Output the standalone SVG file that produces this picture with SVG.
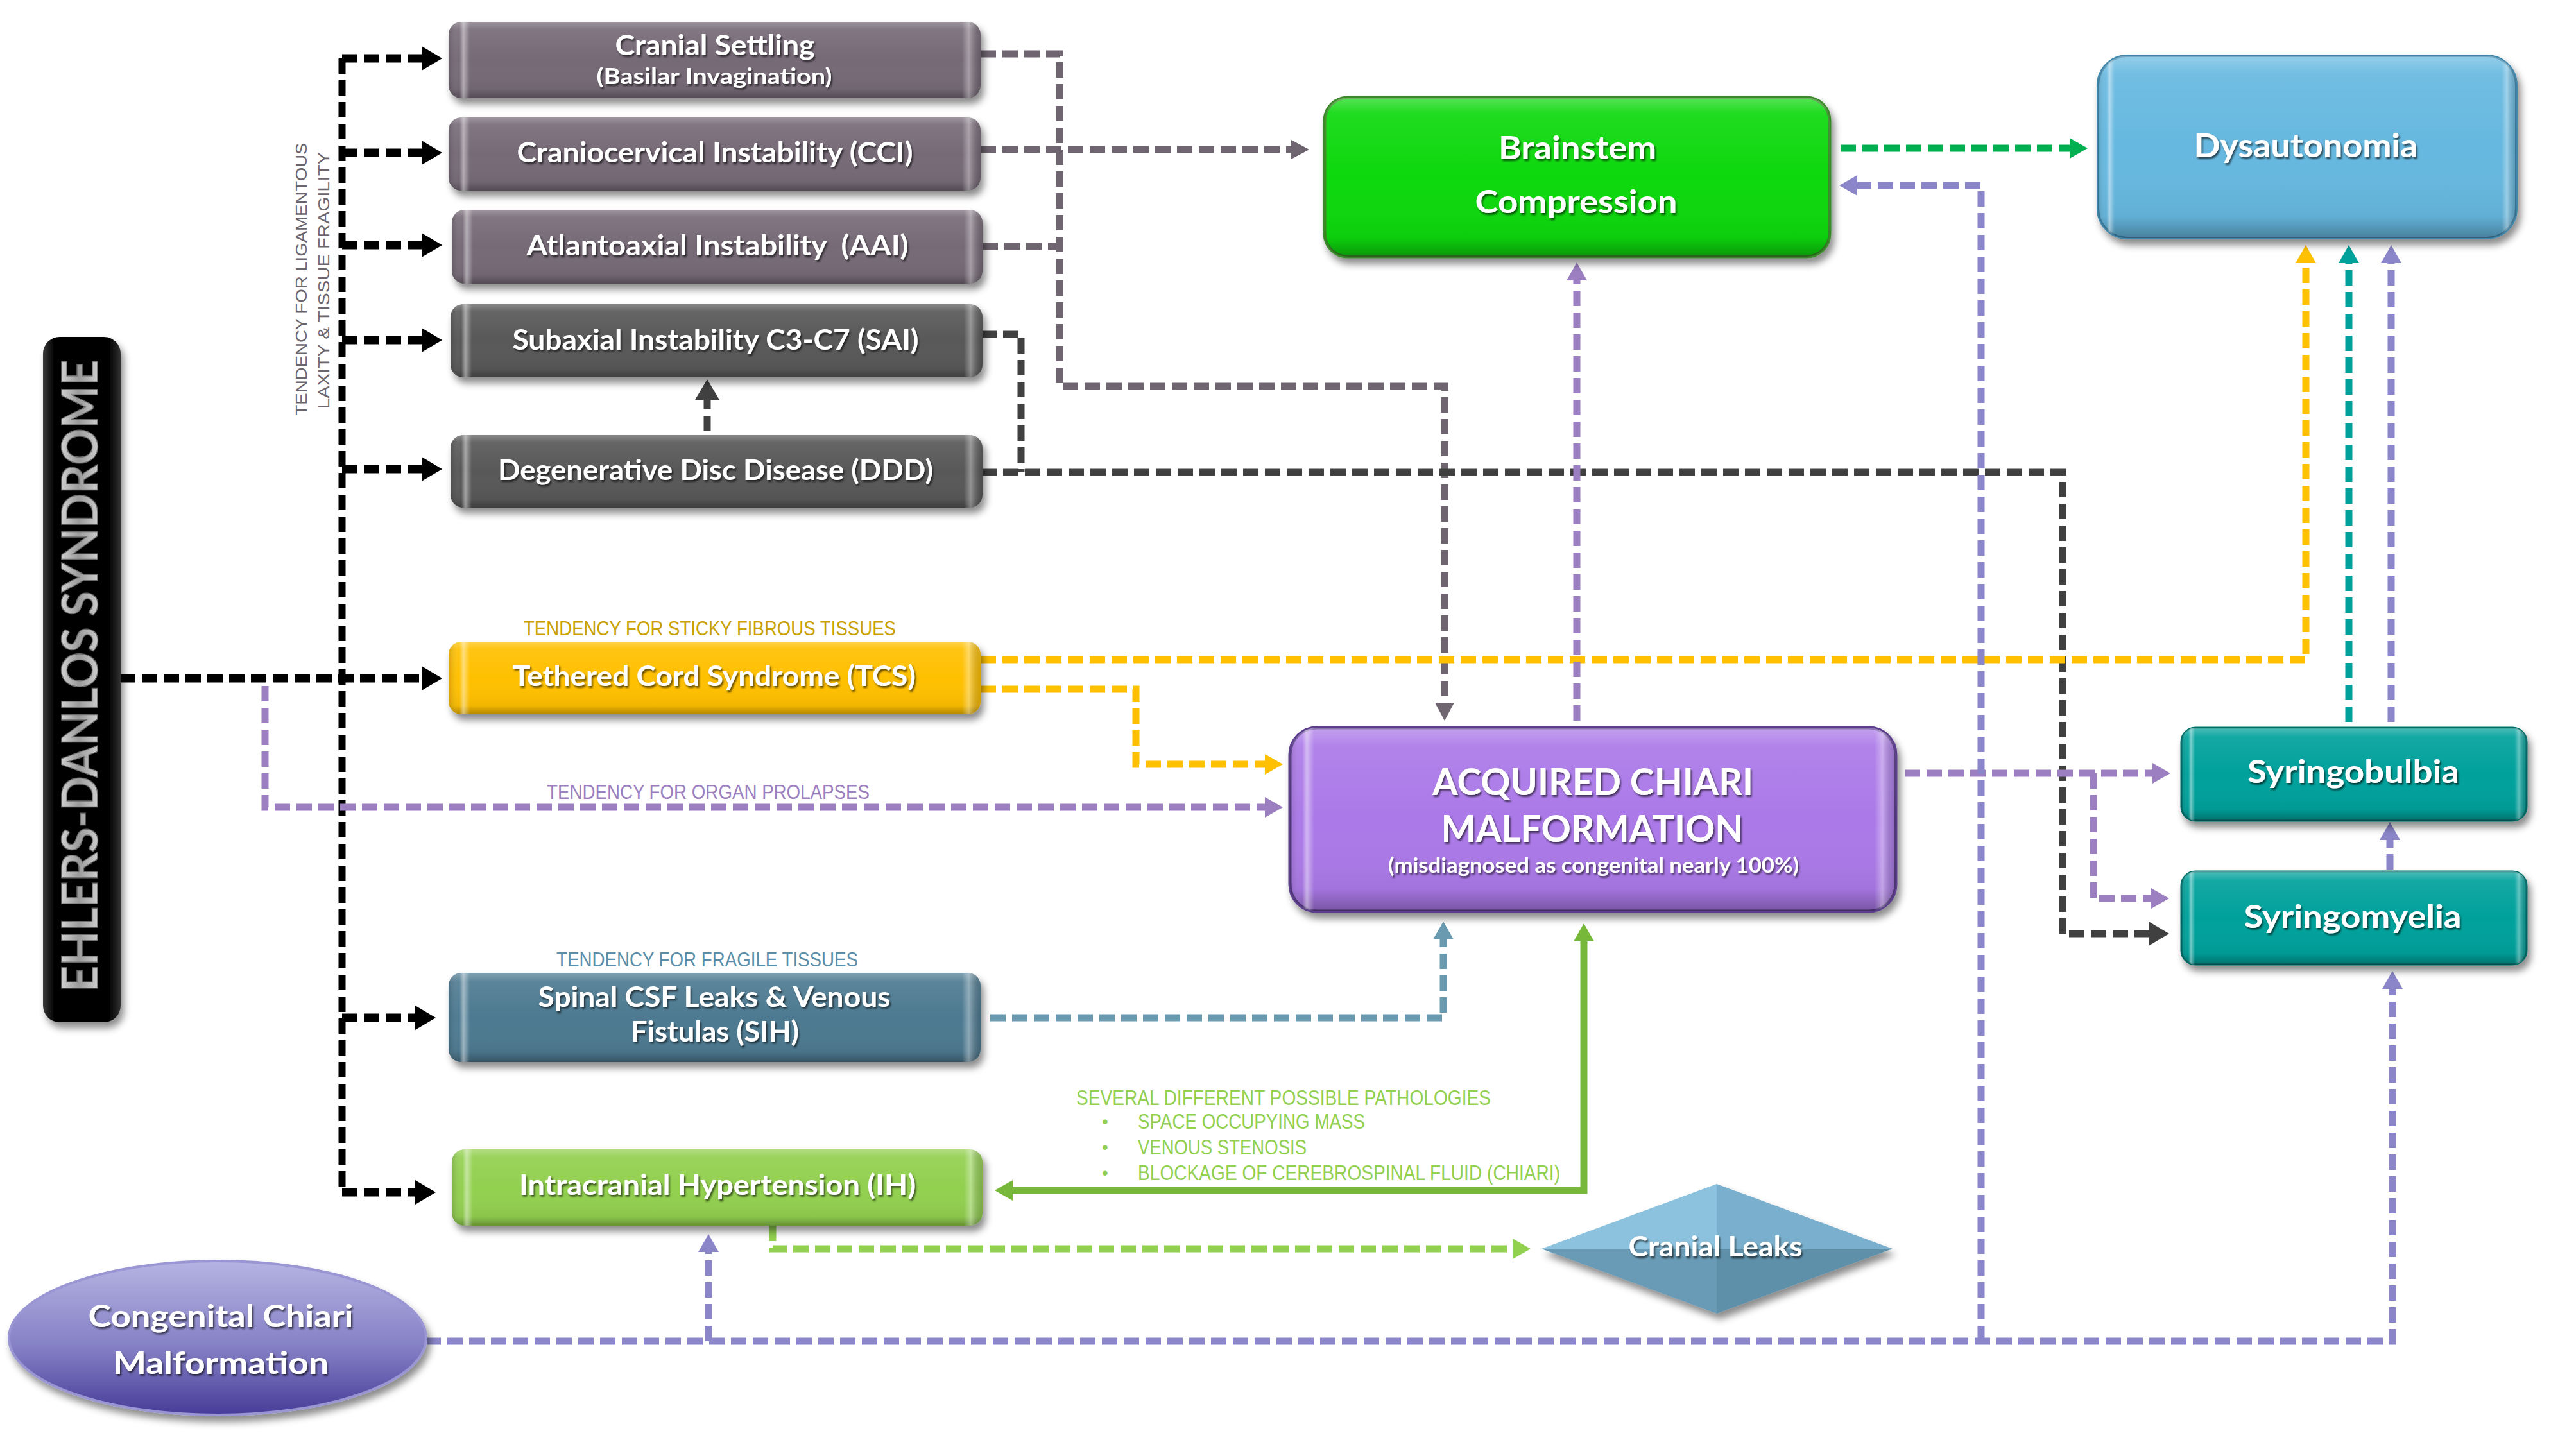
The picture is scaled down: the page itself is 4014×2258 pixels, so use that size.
<svg xmlns="http://www.w3.org/2000/svg" width="4014" height="2258" viewBox="0 0 4014 2258">
<defs>
<style>
.c{fill:none;stroke-width:11;stroke-dasharray:24 10}
.blk{stroke:#000}.gpu{stroke:#6f6570}.dgr{stroke:#404040}.yel{stroke:#ffc000}.mau{stroke:#9b7fc0}.lav{stroke:#8a86c9}.tea{stroke:#00a19b}.grn{stroke:#00b050}.lgr{stroke:#92d050}.sih{stroke:#6a9ab0}
.lbl{font-family:Lato,"Open Sans","Liberation Sans",sans-serif;font-weight:700;fill:#fff;text-anchor:middle;filter:url(#ts)}
.ann{font-family:"Liberation Sans",Arial,sans-serif}
.gl{fill:url(#glossV)}.gh{fill:url(#glossH)}
</style>
<filter id="sh" x="-10%" y="-20%" width="125%" height="150%"><feDropShadow dx="5" dy="9" stdDeviation="6" flood-color="#000" flood-opacity="0.45"/></filter>
<filter id="ts" x="-5%" y="-30%" width="115%" height="170%"><feDropShadow dx="2" dy="3" stdDeviation="1.5" flood-color="#000" flood-opacity="0.6"/></filter>
<linearGradient id="glossV" x1="0" y1="0" x2="0" y2="1"><stop offset="0" stop-color="#fff" stop-opacity="0.3"/><stop offset="0.1" stop-color="#fff" stop-opacity="0.08"/><stop offset="0.5" stop-color="#fff" stop-opacity="0"/><stop offset="0.88" stop-color="#000" stop-opacity="0.05"/><stop offset="1" stop-color="#000" stop-opacity="0.3"/></linearGradient>
<linearGradient id="glossH" x1="0" y1="0" x2="1" y2="0"><stop offset="0" stop-color="#000" stop-opacity="0.15"/><stop offset="0.02" stop-color="#fff" stop-opacity="0"/><stop offset="0.028" stop-color="#fff" stop-opacity="0.45"/><stop offset="0.04" stop-color="#fff" stop-opacity="0"/><stop offset="0.965" stop-color="#fff" stop-opacity="0"/><stop offset="0.978" stop-color="#fff" stop-opacity="0.35"/><stop offset="1" stop-color="#000" stop-opacity="0.15"/></linearGradient>
<linearGradient id="ell" x1="0" y1="0" x2="0" y2="1"><stop offset="0" stop-color="#b5b3e2"/><stop offset="0.55" stop-color="#8581c6"/><stop offset="1" stop-color="#483c98"/></linearGradient>
<linearGradient id="eds" x1="0" y1="0" x2="1" y2="0"><stop offset="0" stop-color="#3a3a3a"/><stop offset="0.15" stop-color="#000"/><stop offset="0.85" stop-color="#000"/><stop offset="1" stop-color="#333"/></linearGradient>
<linearGradient id="silver" x1="0" y1="0" x2="0" y2="1"><stop offset="0" stop-color="#f4f4f4"/><stop offset="0.5" stop-color="#9a9a9a"/><stop offset="1" stop-color="#e6e6e6"/></linearGradient>
<marker id="aBlk" markerUnits="userSpaceOnUse" markerWidth="32" markerHeight="38" refX="12" refY="19" orient="auto"><path d="M0,0 L32,19 L0,38 z" fill="#000"/></marker>
<marker id="aGpu" markerUnits="userSpaceOnUse" markerWidth="28" markerHeight="30" refX="8" refY="15" orient="auto"><path d="M0,0 L28,15 L0,30 z" fill="#6f6570"/></marker>
<marker id="aDgr" markerUnits="userSpaceOnUse" markerWidth="32" markerHeight="38" refX="12" refY="19" orient="auto"><path d="M0,0 L32,19 L0,38 z" fill="#404040"/></marker>
<marker id="aYel" markerUnits="userSpaceOnUse" markerWidth="28" markerHeight="32" refX="8" refY="16" orient="auto"><path d="M0,0 L28,16 L0,32 z" fill="#ffc000"/></marker>
<marker id="aMau" markerUnits="userSpaceOnUse" markerWidth="28" markerHeight="32" refX="8" refY="16" orient="auto"><path d="M0,0 L28,16 L0,32 z" fill="#9b7fc0"/></marker>
<marker id="aLav" markerUnits="userSpaceOnUse" markerWidth="28" markerHeight="32" refX="8" refY="16" orient="auto"><path d="M0,0 L28,16 L0,32 z" fill="#8a86c9"/></marker>
<marker id="aTea" markerUnits="userSpaceOnUse" markerWidth="28" markerHeight="32" refX="8" refY="16" orient="auto"><path d="M0,0 L28,16 L0,32 z" fill="#00a19b"/></marker>
<marker id="aGrn" markerUnits="userSpaceOnUse" markerWidth="28" markerHeight="32" refX="8" refY="16" orient="auto"><path d="M0,0 L28,16 L0,32 z" fill="#00b050"/></marker>
<marker id="aLgr" markerUnits="userSpaceOnUse" markerWidth="28" markerHeight="32" refX="8" refY="16" orient="auto"><path d="M0,0 L28,16 L0,32 z" fill="#92d050"/></marker>
<marker id="aSgr" markerUnits="userSpaceOnUse" markerWidth="28" markerHeight="32" refX="8" refY="16" orient="auto-start-reverse"><path d="M0,0 L28,16 L0,32 z" fill="#77b83a"/></marker>
<marker id="aSih" markerUnits="userSpaceOnUse" markerWidth="28" markerHeight="32" refX="8" refY="16" orient="auto"><path d="M0,0 L28,16 L0,32 z" fill="#6a9ab0"/></marker>
</defs>
<rect width="4014" height="2258" fill="#fff"/>

<g id="connectors">
<path class="c blk" d="M533,91 V1858"/>
<path class="c blk" style="stroke-width:13" d="M533,91 H669" marker-end="url(#aBlk)"/>
<path class="c blk" style="stroke-width:13" d="M533,238 H669" marker-end="url(#aBlk)"/>
<path class="c blk" style="stroke-width:13" d="M533,382 H669" marker-end="url(#aBlk)"/>
<path class="c blk" style="stroke-width:13" d="M533,530 H669" marker-end="url(#aBlk)"/>
<path class="c blk" style="stroke-width:13" d="M533,731 H669" marker-end="url(#aBlk)"/>
<path class="c blk" style="stroke-width:13" d="M533,1586 H659" marker-end="url(#aBlk)"/>
<path class="c blk" style="stroke-width:13" d="M533,1858 H659" marker-end="url(#aBlk)"/>
<path class="c blk" style="stroke-width:13" d="M187,1057 H669" marker-end="url(#aBlk)"/>

<path class="c gpu" d="M1528,84 H1651 V602 H2251 V1103" marker-end="url(#aGpu)"/>
<path class="c gpu" d="M1528,233 H2020" marker-end="url(#aGpu)"/>
<path class="c gpu" d="M1531,384 H1651"/>

<path class="c dgr" d="M1529,521 H1591 V736"/>
<path class="c dgr" d="M1529,736 H3214 V1455 H3360" marker-end="url(#aDgr)"/>
<path class="c dgr" d="M1102,672 V611" marker-end="url(#aDgr)"/>

<path class="c yel" d="M1528,1028 H3593 V402" marker-end="url(#aYel)"/>
<path class="c yel" d="M1528,1074 H1770 V1191 H1979" marker-end="url(#aYel)"/>

<path class="c mau" d="M413,1069 V1258 H1979" marker-end="url(#aMau)"/>
<path class="c mau" d="M2457,1123 V429" marker-end="url(#aMau)"/>
<path class="c mau" d="M2968,1205 H3362" marker-end="url(#aMau)"/>
<path class="c mau" d="M3262,1205 V1400 H3360" marker-end="url(#aMau)"/>

<path class="c lav" d="M663,2090 H3728 V1533" marker-end="url(#aLav)"/>
<path class="c lav" d="M1104,2090 V1943" marker-end="url(#aLav)"/>
<path class="c lav" d="M3087,2090 V289 H2886" marker-end="url(#aLav)"/>
<path class="c lav" d="M3724,1355 V1301" marker-end="url(#aLav)"/>
<path class="c lav" d="M3726,1125 V402" marker-end="url(#aLav)"/>

<path class="c tea" d="M3660,1125 V402" marker-end="url(#aTea)"/>
<path class="c grn" d="M2868,231 H3233" marker-end="url(#aGrn)"/>
<path class="c lgr" d="M1204,1910 V1946 H2365" marker-end="url(#aLgr)"/>
<path d="M2468,1459 V1855 H1570" fill="none" stroke="#77b83a" stroke-width="11" marker-start="url(#aSgr)" marker-end="url(#aSgr)"/>
<path class="c sih" d="M1543,1586 H2249 V1456" marker-end="url(#aSih)"/>
</g>

<g id="eds">
<rect x="67" y="525" width="121" height="1068" rx="26" fill="url(#eds)" filter="url(#sh)"/>
<text transform="translate(152,1053) rotate(-90)" font-family="Lato,'Open Sans',sans-serif" font-weight="700" font-size="76" text-anchor="middle" textLength="985" lengthAdjust="spacingAndGlyphs" fill="url(#silver)" stroke="#6a6a6a" stroke-width="1.5">EHLERS-DANLOS SYNDROME</text>
</g>

<g id="ligament-label" class="ann" font-size="24" fill="#6b666d" text-anchor="middle">
<text transform="translate(478,435) rotate(-90)" textLength="425" lengthAdjust="spacingAndGlyphs">TENDENCY FOR LIGAMENTOUS</text>
<text transform="translate(513,437) rotate(-90)" textLength="400" lengthAdjust="spacingAndGlyphs">LAXITY &amp; TISSUE FRAGILITY</text>
</g>

<g id="cranial-settling">
<rect x="699" y="34" width="829" height="119" rx="20" fill="#766a77" filter="url(#sh)"/>
<rect class="gl" x="699" y="34" width="829" height="119" rx="20"/><rect class="gh" x="699" y="34" width="829" height="119" rx="20"/>
<text class="lbl" x="1114" y="86" font-size="44" textLength="311" lengthAdjust="spacingAndGlyphs">Cranial Settling</text>
<text class="lbl" x="1113" y="131" font-size="34" textLength="367" lengthAdjust="spacingAndGlyphs">(Basilar Invagination)</text>
</g>
<g id="cci">
<rect x="699" y="183" width="829" height="114" rx="20" fill="#766a77" filter="url(#sh)"/>
<rect class="gl" x="699" y="183" width="829" height="114" rx="20"/><rect class="gh" x="699" y="183" width="829" height="114" rx="20"/>
<text class="lbl" x="1114" y="253" font-size="44" textLength="617" lengthAdjust="spacingAndGlyphs">Craniocervical Instability (CCI)</text>
</g>
<g id="aai">
<rect x="704" y="327" width="827" height="115" rx="20" fill="#766a77" filter="url(#sh)"/>
<rect class="gl" x="704" y="327" width="827" height="115" rx="20"/><rect class="gh" x="704" y="327" width="827" height="115" rx="20"/>
<text class="lbl" x="1118" y="398" font-size="44" textLength="595" lengthAdjust="spacingAndGlyphs">Atlantoaxial Instability&#160; (AAI)</text>
</g>
<g id="sai">
<rect x="702" y="474" width="829" height="114" rx="20" fill="#595959" filter="url(#sh)"/>
<rect class="gl" x="702" y="474" width="829" height="114" rx="20"/><rect class="gh" x="702" y="474" width="829" height="114" rx="20"/>
<text class="lbl" x="1115" y="545" font-size="44" textLength="633" lengthAdjust="spacingAndGlyphs">Subaxial Instability C3-C7 (SAI)</text>
</g>
<g id="ddd">
<rect x="702" y="678" width="829" height="113" rx="20" fill="#595959" filter="url(#sh)"/>
<rect class="gl" x="702" y="678" width="829" height="113" rx="20"/><rect class="gh" x="702" y="678" width="829" height="113" rx="20"/>
<text class="lbl" x="1115" y="748" font-size="44" textLength="678" lengthAdjust="spacingAndGlyphs">Degenerative Disc Disease (DDD)</text>
</g>
<g id="tcs">
<text class="ann" x="816" y="990" font-size="32" fill="#c9a100" textLength="580" lengthAdjust="spacingAndGlyphs">TENDENCY FOR STICKY FIBROUS TISSUES</text>
<rect x="699" y="1000" width="829" height="113" rx="20" fill="#ffc000" filter="url(#sh)"/>
<rect class="gl" x="699" y="1000" width="829" height="113" rx="20"/><rect class="gh" x="699" y="1000" width="829" height="113" rx="20"/>
<text class="lbl" x="1113" y="1069" font-size="44" textLength="628" lengthAdjust="spacingAndGlyphs">Tethered Cord Syndrome (TCS)</text>
</g>
<g id="organ-prolapse-label">
<text class="ann" x="852" y="1245" font-size="32" fill="#9b7fc0" textLength="503" lengthAdjust="spacingAndGlyphs">TENDENCY FOR ORGAN PROLAPSES</text>
</g>
<g id="sih">
<text class="ann" x="867" y="1506" font-size="32" fill="#5b8ea8" textLength="470" lengthAdjust="spacingAndGlyphs">TENDENCY FOR FRAGILE TISSUES</text>
<rect x="699" y="1516" width="829" height="139" rx="20" fill="#4e7a91" filter="url(#sh)"/>
<rect class="gl" x="699" y="1516" width="829" height="139" rx="20"/><rect class="gh" x="699" y="1516" width="829" height="139" rx="20"/>
<text class="lbl" x="1113" y="1569" font-size="44" textLength="549" lengthAdjust="spacingAndGlyphs">Spinal CSF Leaks &amp; Venous</text>
<text class="lbl" x="1114" y="1623" font-size="44" textLength="262" lengthAdjust="spacingAndGlyphs">Fistulas (SIH)</text>
</g>
<g id="ih">
<rect x="704" y="1791" width="827" height="119" rx="20" fill="#92d050" filter="url(#sh)"/>
<rect class="gl" x="704" y="1791" width="827" height="119" rx="20"/><rect class="gh" x="704" y="1791" width="827" height="119" rx="20"/>
<text class="lbl" x="1118" y="1862" font-size="44" textLength="618" lengthAdjust="spacingAndGlyphs">Intracranial Hypertension (IH)</text>
</g>
<g id="pathologies-label" class="ann" font-size="34" fill="#92d050">
<text x="1677" y="1722" textLength="646" lengthAdjust="spacingAndGlyphs">SEVERAL DIFFERENT POSSIBLE PATHOLOGIES</text>
<text x="1722" y="1757" font-size="28" text-anchor="middle">•</text>
<text x="1773" y="1759" textLength="354" lengthAdjust="spacingAndGlyphs">SPACE OCCUPYING MASS</text>
<text x="1722" y="1797" font-size="28" text-anchor="middle">•</text>
<text x="1773" y="1799" textLength="263" lengthAdjust="spacingAndGlyphs">VENOUS STENOSIS</text>
<text x="1722" y="1837" font-size="28" text-anchor="middle">•</text>
<text x="1773" y="1839" textLength="658" lengthAdjust="spacingAndGlyphs">BLOCKAGE OF CEREBROSPINAL FLUID (CHIARI)</text>
</g>
<g id="brainstem">
<rect x="2064" y="152" width="787" height="248" rx="36" fill="#0ad80a" stroke="#3a8a2a" stroke-width="5" filter="url(#sh)"/>
<rect class="gl" x="2064" y="152" width="787" height="248" rx="36"/>
<text class="lbl" x="2458" y="248" font-size="50" textLength="246" lengthAdjust="spacingAndGlyphs">Brainstem</text>
<text class="lbl" x="2456" y="332" font-size="50" textLength="315" lengthAdjust="spacingAndGlyphs">Compression</text>
</g>
<g id="dysautonomia">
<rect x="3269" y="87" width="652" height="284" rx="46" fill="#66b8e0" stroke="#3f86aa" stroke-width="4" filter="url(#sh)"/>
<rect class="gl" x="3269" y="87" width="652" height="284" rx="46"/><rect class="gh" x="3269" y="87" width="652" height="284" rx="46"/>
<text class="lbl" x="3593" y="245" font-size="52" textLength="349" lengthAdjust="spacingAndGlyphs">Dysautonomia</text>
</g>
<g id="acquired-chiari">
<rect x="2010" y="1134" width="944" height="286" rx="42" fill="#ab79e8" stroke="#5b3e8e" stroke-width="5" filter="url(#sh)"/>
<rect class="gl" x="2010" y="1134" width="944" height="286" rx="42"/><rect class="gh" x="2010" y="1134" width="944" height="286" rx="42"/>
<text class="lbl" x="2482" y="1239" font-size="58" textLength="500" lengthAdjust="spacingAndGlyphs">ACQUIRED CHIARI</text>
<text class="lbl" x="2481" y="1312" font-size="58" textLength="471" lengthAdjust="spacingAndGlyphs">MALFORMATION</text>
<text class="lbl" x="2483" y="1360" font-size="32" font-weight="400" textLength="640" lengthAdjust="spacingAndGlyphs">(misdiagnosed as congenital nearly 100%)</text>
</g>
<g id="syringobulbia">
<rect x="3399" y="1134" width="538" height="145" rx="22" fill="#00a19b" stroke="#00706b" stroke-width="3" filter="url(#sh)"/>
<rect class="gl" x="3399" y="1134" width="538" height="145" rx="22"/><rect class="gh" x="3399" y="1134" width="538" height="145" rx="22"/>
<text class="lbl" x="3667" y="1220" font-size="50" textLength="330" lengthAdjust="spacingAndGlyphs">Syringobulbia</text>
</g>
<g id="syringomyelia">
<rect x="3399" y="1358" width="538" height="145" rx="22" fill="#00a19b" stroke="#00706b" stroke-width="3" filter="url(#sh)"/>
<rect class="gl" x="3399" y="1358" width="538" height="145" rx="22"/><rect class="gh" x="3399" y="1358" width="538" height="145" rx="22"/>
<text class="lbl" x="3666" y="1446" font-size="50" textLength="339" lengthAdjust="spacingAndGlyphs">Syringomyelia</text>
</g>
<g id="congenital-chiari">
<ellipse cx="339" cy="2085" rx="325" ry="120" fill="url(#ell)" stroke="#9a96d4" stroke-width="4" filter="url(#sh)"/>
<text class="lbl" x="344" y="2068" font-size="47" textLength="413" lengthAdjust="spacingAndGlyphs">Congenital Chiari</text>
<text class="lbl" x="344" y="2141" font-size="47" textLength="336" lengthAdjust="spacingAndGlyphs">Malformation</text>
</g>
<g id="cranial-leaks">
<g filter="url(#sh)">
<polygon points="2402,1946 2675,1845 2675,1946" fill="#8cc2de"/>
<polygon points="2675,1845 2949,1946 2675,1946" fill="#7ab0cd"/>
<polygon points="2402,1946 2675,1946 2675,2047" fill="#6a9bb6"/>
<polygon points="2675,1946 2949,1946 2675,2047" fill="#5f90aa"/>
</g>
<text class="lbl" x="2673" y="1958" font-size="44" textLength="271" lengthAdjust="spacingAndGlyphs">Cranial Leaks</text>
</g>
</svg>
